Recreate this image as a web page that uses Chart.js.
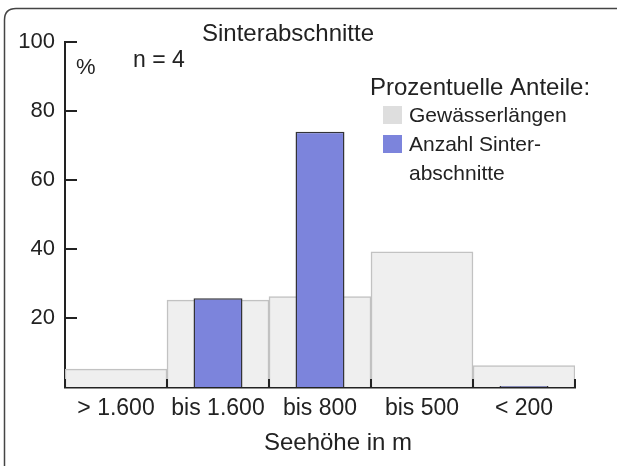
<!DOCTYPE html>
<html>
<head>
<meta charset="utf-8">
<script src="https://cdn.jsdelivr.net/npm/chart.js@4"></script>
<style>
  body { margin: 0; background: #fff; }
</style>
</head>
<body>
<canvas id="myChart" width="617" height="466"></canvas>
<script>
const categories = ['> 1.600', 'bis 1.600', 'bis 800', 'bis 500', '< 200'];
const gewaesserlaengen = [5.2, 25.2, 26.2, 39.2, 6.2];
const sinterabschnitte = [null, 25.7, 74, null, 0.3];
const yTicks = [20, 40, 60, 80, 100];

const FONT = '"Liberation Sans", Arial, sans-serif';
const TEXT = '#222';

// frame, texts, legend and the inward tick marks
const decor = {
    id: 'decor',
    beforeDraw(chart) {
        const c = chart.ctx;
        c.save();
        c.strokeStyle = '#444';
        c.lineWidth = 1.5;
        c.beginPath();
        c.moveTo(4.5, 466);
        c.lineTo(4.5, 20);
        c.quadraticCurveTo(4.5, 8.5, 16, 8.5);
        c.lineTo(617, 8.5);
        c.stroke();
        c.restore();
    },
    afterDatasetsDraw(chart) {
        const c = chart.ctx;
        const x = chart.scales.x;
        const y = chart.scales.y;
        c.save();
        c.strokeStyle = TEXT;
        c.lineWidth = 2;
        yTicks.forEach(v => {
            const py = Math.round(y.getPixelForValue(v));
            c.beginPath();
            c.moveTo(x.left, py);
            c.lineTo(x.left + 12, py);
            c.stroke();
        });
        for (let i = 0; i <= categories.length; i++) {
            const px = Math.round(x.getPixelForValue(i - 0.5));
            c.beginPath();
            c.moveTo(px, y.bottom);
            c.lineTo(px, y.bottom - 8);
            c.stroke();
        }

        c.fillStyle = TEXT;
        c.textBaseline = 'middle';
        c.font = '24px ' + FONT;
        c.textAlign = 'center';
        c.fillText('Sinterabschnitte', 288, 34);
        c.fillText('Seehöhe in m', 338, 443);
        c.textAlign = 'left';
        c.font = '23px ' + FONT;
        c.fillText('n = 4', 133, 61);
        c.font = '22px ' + FONT;
        c.fillText('%', 76, 68);

        c.font = '24px ' + FONT;
        c.fillText('Prozentuelle Anteile:', 370, 88);
        c.font = '21px ' + FONT;
        const ds = chart.data.datasets;
        const items = [
            { color: '#dedede', lines: ['Gewässerlängen'] },
            { color: ds[1].backgroundColor, lines: ['Anzahl Sinter-', 'abschnitte'] }
        ];
        let ly = 116;
        items.forEach(it => {
            c.fillStyle = it.color;
            c.fillRect(383, ly - 10, 19, 18);
            c.fillStyle = TEXT;
            it.lines.forEach(t => {
                c.fillText(t, 409, ly);
                ly += 29;
            });
        });
        c.restore();
    }
};

new Chart(document.getElementById('myChart'), {
    type: 'bar',
    data: {
        labels: categories,
        datasets: [{
            label: 'Gewässerlängen',
            data: gewaesserlaengen,
            backgroundColor: '#efefef',
            borderColor: '#c2c2c2',
            borderWidth: 1.5,
            categoryPercentage: 1,
            barPercentage: 1,
            grouped: false,
            order: 2
        }, {
            label: 'Anzahl Sinterabschnitte',
            data: sinterabschnitte,
            backgroundColor: '#7c84dc',
            borderColor: '#333338',
            borderWidth: 1.5,
            categoryPercentage: 1,
            barPercentage: 0.48,
            grouped: false,
            order: 1
        }]
    },
    options: {
        responsive: false,
        animation: false,
        devicePixelRatio: 1,
        layout: { padding: { top: 42, right: 42, left: 0, bottom: 0 } },
        plugins: {
            legend: { display: false },
            tooltip: { enabled: false }
        },
        scales: {
            x: {
                grid: { display: false, drawTicks: false },
                border: { color: TEXT, width: 2.5 },
                ticks: { color: TEXT, font: { family: FONT, size: 23 }, padding: 8, maxRotation: 0 },
                afterFit: s => { s.height = 79; }
            },
            y: {
                min: 0,
                max: 100,
                grid: { display: false, drawTicks: false },
                border: { color: TEXT, width: 2 },
                ticks: {
                    stepSize: 20,
                    color: TEXT,
                    padding: 10,
                    font: { family: FONT, size: 22 },
                    callback: v => v === 0 ? '' : v
                },
                afterFit: s => { s.width = 65; }
            }
        }
    },
    plugins: [decor]
});
</script>
</body>
</html>
